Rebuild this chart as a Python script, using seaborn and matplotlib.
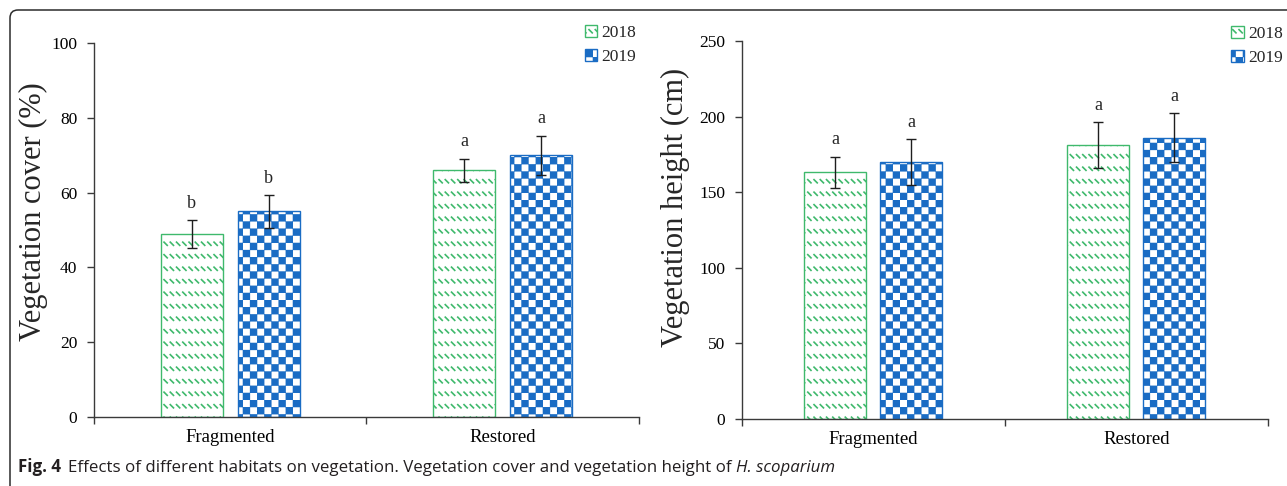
import numpy as np
import pandas as pd
import matplotlib
matplotlib.use("Agg")
import matplotlib.pyplot as plt
import matplotlib.hatch as mhatch
from matplotlib.path import Path
from matplotlib.patches import Patch, FancyBboxPatch
import seaborn as sns

# ---- data -------------------------------------------------------------
habitats = ["Fragmented", "Restored"]
years = ["2018", "2019"]

cover_2018 = [49, 66]
cover_2019 = [55, 70]
cover_err_2018 = [3.7, 3.1]
cover_err_2019 = [4.4, 5.2]
cover_letters_2018 = ["b", "a"]
cover_letters_2019 = ["b", "a"]

height_2018 = [163, 181]
height_2019 = [170, 186]
height_err_2018 = [10.5, 15.2]
height_err_2019 = [15.2, 16.3]
height_letters_2018 = ["a", "a"]
height_letters_2019 = ["a", "a"]

cover_ticks = [0, 20, 40, 60, 80, 100]
height_ticks = [0, 50, 100, 150, 200, 250]

GREEN = "#3fb96c"
BLUE = "#1a6cc4"
AXIS = "#3a3a3a"


# ---- custom fill textures (short diagonal dashes, checkerboard) ---------
def _dash_hatch(rows=8, cols=16, half=0.016):
    verts, codes = [], []
    for r in range(rows):
        y = (r + 0.5) / rows
        for c in range(cols):
            x = (c + 0.5) / cols
            verts += [(x - half, y + half), (x + half, y - half)]
            codes += [Path.MOVETO, Path.LINETO]
    return Path(np.array(verts), np.array(codes, dtype=Path.code_type))


def _checker_hatch(n=14, inset=0.007):
    verts, codes = [], []
    s = 1.0 / n
    for i in range(n):
        for j in range(n):
            if (i + j) % 2 == 0:
                x0, y0 = i * s + inset, j * s + inset
                x1, y1 = (i + 1) * s - inset, (j + 1) * s - inset
                verts += [(x0, y0), (x1, y0), (x1, y1), (x0, y1), (x0, y0)]
                codes += [Path.MOVETO, Path.LINETO, Path.LINETO,
                          Path.LINETO, Path.CLOSEPOLY]
    return Path(np.array(verts), np.array(codes, dtype=Path.code_type))


DASH_HATCH = "\\\\.."
CHECKER_HATCH = "++.."
_custom_hatches = {DASH_HATCH: _dash_hatch(), CHECKER_HATCH: _checker_hatch()}
_stock_get_path = mhatch.get_path


def _get_path(hatchpattern, density=6):
    if hatchpattern in _custom_hatches:
        return _custom_hatches[hatchpattern]
    return _stock_get_path(hatchpattern, density)


mhatch.get_path = _get_path

# ---- style --------------------------------------------------------------
sns.set_style("ticks")
plt.rcParams["font.family"] = ["Liberation Serif", "DejaVu Serif"]
plt.rcParams["hatch.linewidth"] = 1.2
plt.rcParams["axes.edgecolor"] = AXIS
plt.rcParams["xtick.color"] = AXIS
plt.rcParams["ytick.color"] = AXIS
plt.rcParams["xtick.labelcolor"] = "black"
plt.rcParams["ytick.labelcolor"] = "black"

fig = plt.figure(figsize=(12.87, 4.86), dpi=100)
fig.patch.set_facecolor("white")

year_colors = {years[0]: GREEN, years[1]: BLUE}
year_hatches = {years[0]: DASH_HATCH, years[1]: CHECKER_HATCH}


def draw_panel(ax, v18, v19, e18, e19, l18, l19, ticks, ylabel, width, gap,
               legend_anchor):
    df = pd.DataFrame({
        "habitat": habitats * 2,
        "year": [years[0]] * len(habitats) + [years[1]] * len(habitats),
        "value": list(v18) + list(v19),
    })
    sns.barplot(data=df, x="habitat", y="value", hue="year", order=habitats,
                hue_order=years, palette=year_colors, width=width, gap=gap,
                errorbar=None, legend=False, ax=ax)

    errs = {years[0]: e18, years[1]: e19}
    vals = {years[0]: v18, years[1]: v19}
    letters = {years[0]: l18, years[1]: l19}
    for year, container in zip(years, ax.containers):
        xs = []
        for bar in container:
            bar.set_facecolor("white")
            bar.set_edgecolor(year_colors[year])
            bar.set_linewidth(1.0)
            bar.set_hatch(year_hatches[year])
            xs.append(bar.get_x() + bar.get_width() / 2)
        ax.errorbar(xs, vals[year], yerr=errs[year], fmt="none",
                    ecolor="#1e1e1e", elinewidth=1.0, capsize=3.6,
                    capthick=1.0, zorder=5)
        for x, v, e, lab in zip(xs, vals[year], errs[year], letters[year]):
            ax.annotate(lab, xy=(x, v + e), xytext=(0, 6),
                        textcoords="offset points", ha="center", va="bottom",
                        fontsize=13)

    ax.set_ylim(ticks[0], ticks[-1])
    ax.set_yticks(ticks)
    ax.set_xlim(-0.5, len(habitats) - 0.5)
    ax.set_xticks(range(len(habitats)))
    ax.set_xticklabels(habitats)
    ax.set_xticks(np.arange(-0.5, len(habitats), 1.0), minor=True)
    ax.tick_params(axis="x", which="major", length=0, pad=9, labelsize=13.5)
    ax.tick_params(axis="x", which="minor", length=5, width=1.0)
    ax.tick_params(axis="y", length=5, width=1.0, pad=7, labelsize=12.5)
    ax.set_xlabel("")
    ax.set_ylabel(ylabel, fontsize=22)
    sns.despine(ax=ax)
    for sp in ("left", "bottom"):
        ax.spines[sp].set_linewidth(1.0)

    handles = [Patch(facecolor="white", edgecolor=year_colors[y],
                     hatch=year_hatches[y], linewidth=1.0) for y in years]
    ax.legend(handles, years, loc="upper right", bbox_to_anchor=legend_anchor,
              frameon=False, fontsize=12.5, handlelength=0.7,
              handleheight=0.7, handletextpad=0.25, labelspacing=0.45,
              borderpad=0, borderaxespad=0)


ax1 = fig.add_axes([0.0730, 0.142, 0.4235, 0.7695])
ax2 = fig.add_axes([0.5765, 0.138, 0.4087, 0.7778])

draw_panel(ax1, cover_2018, cover_2019, cover_err_2018, cover_err_2019,
           cover_letters_2018, cover_letters_2019, cover_ticks,
           "Vegetation cover (%)", width=0.565, gap=0.195,
           legend_anchor=(0.995, 1.049))
draw_panel(ax2, height_2018, height_2019, height_err_2018, height_err_2019,
           height_letters_2018, height_letters_2019, height_ticks,
           "Vegetation height (cm)", width=0.578, gap=0.184,
           legend_anchor=(1.028, 1.04))

ax1.yaxis.set_label_coords(-0.084, 0.55)
ax2.yaxis.set_label_coords(-0.099, 0.56)

# ---- frame and caption ------------------------------------------------
frame = FancyBboxPatch((0.10, -0.5), 14.0, 4.76 + 0.5,
                       boxstyle="round,pad=0,rounding_size=0.08",
                       transform=fig.dpi_scale_trans, facecolor="none",
                       edgecolor="#2b2b2b", linewidth=1.1, clip_on=False)
fig.add_artist(frame)

cap_font = ["Open Sans", "DejaVu Sans"]
t1 = fig.text(18 / 1287, 1 - 472 / 486, "Fig. 4", fontsize=12.2,
              fontweight="bold", family=cap_font, color="#231f20",
              va="baseline")
t2 = plt.annotate("Effects of different habitats on vegetation. Vegetation cover "
                  "and vegetation height of ", xy=(1, 0), xycoords=t1,
                  xytext=(5, 0), textcoords="offset points", va="bottom",
                  fontsize=12.2, family=cap_font, color="#231f20",
                  annotation_clip=False)
plt.annotate("H. scoparium", xy=(1, 0), xycoords=t2, xytext=(0, 0),
             textcoords="offset points", va="bottom", fontsize=12.2,
             family=cap_font, style="italic", color="#231f20",
             annotation_clip=False)

fig.savefig("out.png", dpi=100)
